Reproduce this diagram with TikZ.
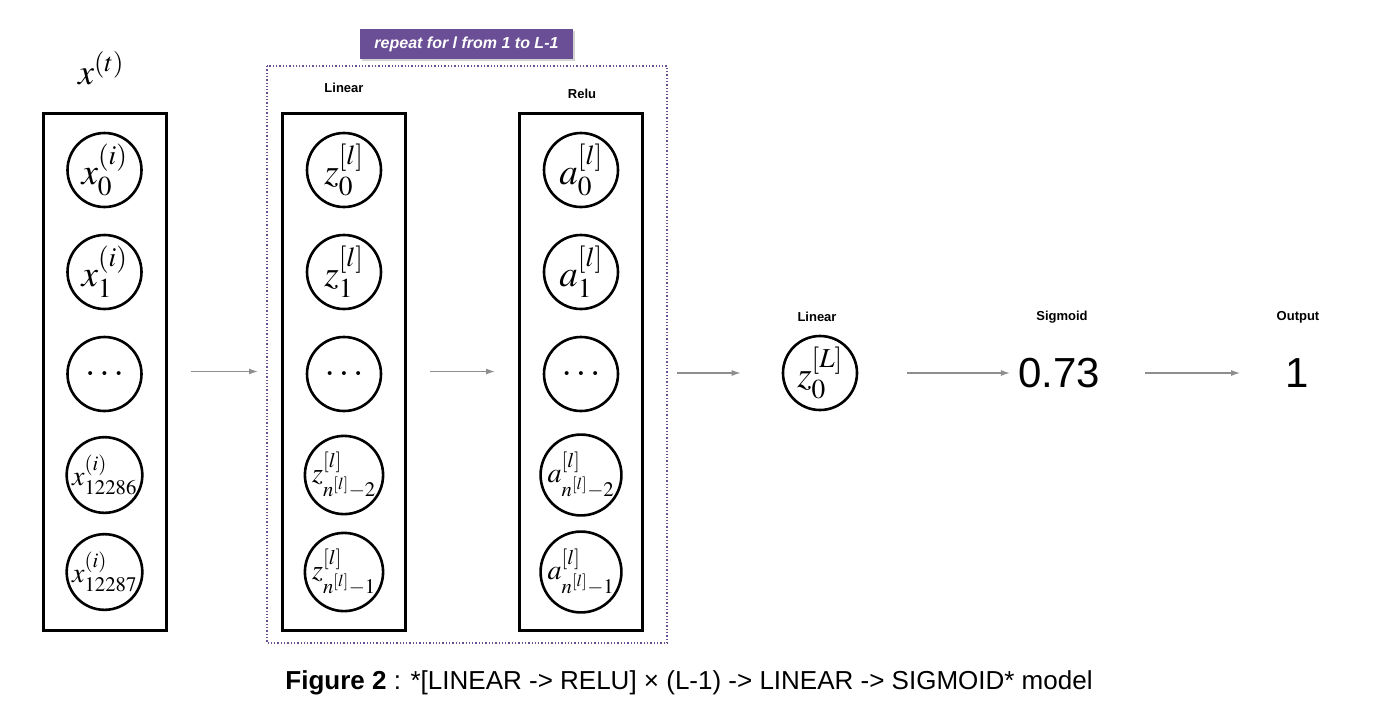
\documentclass[tikz,border=0pt]{standalone}
\usepackage{mathptmx}
\usepackage[no-math]{fontspec}
\setmainfont{Liberation Sans}
\usepackage{tikz}
\usetikzlibrary{arrows.meta, positioning, shadows}

\definecolor{repeatpurple}{HTML}{6A4F96}
\definecolor{flowgray}{HTML}{8E8E8E}

\begin{document}
\begin{tikzpicture}[
  x=1pt, y=-1pt,
  neuron/.style={draw, circle, line width=2.6pt, minimum size=74pt, inner sep=0pt, font=\fontsize{37}{39}\selectfont},
  smallneuron/.style={neuron, font=\fontsize{28}{30}\selectfont},
  layer/.style={draw, line width=3pt, minimum width=123pt, minimum height=517pt},
  head/.style={font=\fontsize{13}{15}\selectfont\bfseries},
  value/.style={inner sep=0pt, font=\fontsize{42}{44}\selectfont},
  flow/.style={-{Latex[length=9pt,width=6pt]}, draw=flowgray, line width=1.3pt, shorten <=23pt, shorten >=23pt},
  tag/.style={fill=repeatpurple, text=white, font=\fontsize{16}{18}\selectfont\bfseries\itshape, minimum width=213pt, minimum height=30pt, drop shadow={opacity=0.35, shadow xshift=1.5pt, shadow yshift=-1.5pt}}
]
\useasboundingbox (0,0) rectangle (1378,724);

% repeated block
\draw[repeatpurple, dotted, line width=1.3pt] (267,66) rectangle (667,643);
\node[tag] (rep) at (466.5,44) {repeat for l from 1 to L-1};

% layer boxes
\node[layer] (inbox)   at (104.5,371.5) {};
\node[layer] (linbox)  at (344,371.5)   {};
\node[layer] (relubox) at (581,371.5)   {};

\node[font=\fontsize{36}{38}\selectfont] (xt) at (101,68) {$x^{(t)}$};
\node[head] (linhead)  at (344,88) {Linear};
\node[head] (reluhead) at (582,94) {Relu};

% input column
\node[neuron]      (x0) at (104.5,170) {$x^{(i)}_0$};
\node[neuron]      (x1) at (104.5,272) {$x^{(i)}_1$};
\node[neuron]      (xd) at (104.5,374) {$\dots$};
\node[smallneuron] (xa) at (104.5,475) {$x^{(i)}_{12286}$};
\node[smallneuron] (xb) at (104.5,572) {$x^{(i)}_{12287}$};

% linear column
\node[neuron]      (z0) at (344,170) {$z^{[l]}_0$};
\node[neuron]      (z1) at (344,272) {$z^{[l]}_1$};
\node[neuron]      (zd) at (344,374) {$\dots$};
\node[smallneuron] (za) at (344,475) {$z^{[l]}_{n^{[l]}-2}$};
\node[smallneuron] (zb) at (344,572) {$z^{[l]}_{n^{[l]}-1}$};

% relu column
\node[neuron]      (a0) at (581,170) {$a^{[l]}_0$};
\node[neuron]      (a1) at (581,272) {$a^{[l]}_1$};
\node[neuron]      (ad) at (581,374) {$\dots$};
\node[smallneuron] (aa) at (581,475) {$a^{[l]}_{n^{[l]}-2}$};
\node[smallneuron] (ab) at (581,572) {$a^{[l]}_{n^{[l]}-1}$};

% output part
\node[neuron] (zL)  at (820,373)  {$z^{[L]}_0$};
\node[value]  (sig) at (1059,373) {0.73};
\node[value]  (out) at (1297,373) {1};
\node[head] (linhead2) at (817,317)  {Linear};
\node[head] (sighead)  at (1062,317) {Sigmoid};
\node[head] (outhead)  at (1298,317) {Output};

\draw[flow] (inbox)   -- (linbox);
\draw[flow] (linbox)  -- (relubox);
\draw[flow, shorten <=33pt, shorten >=41pt] (relubox.east |- zL) -- (zL.west);
\draw[flow, shorten <=49pt, shorten >=8pt] (zL.east) -- (sig.west);
\draw[flow, shorten <=45pt, shorten >=45pt] (sig.east) -- (out.west);

\node[font=\fontsize{26}{28}\selectfont] (caption) at (689,683)
  {\textbf{Figure 2} : *[LINEAR -> RELU] × (L-1) -> LINEAR -> SIGMOID* model};
\end{tikzpicture}
\end{document}
